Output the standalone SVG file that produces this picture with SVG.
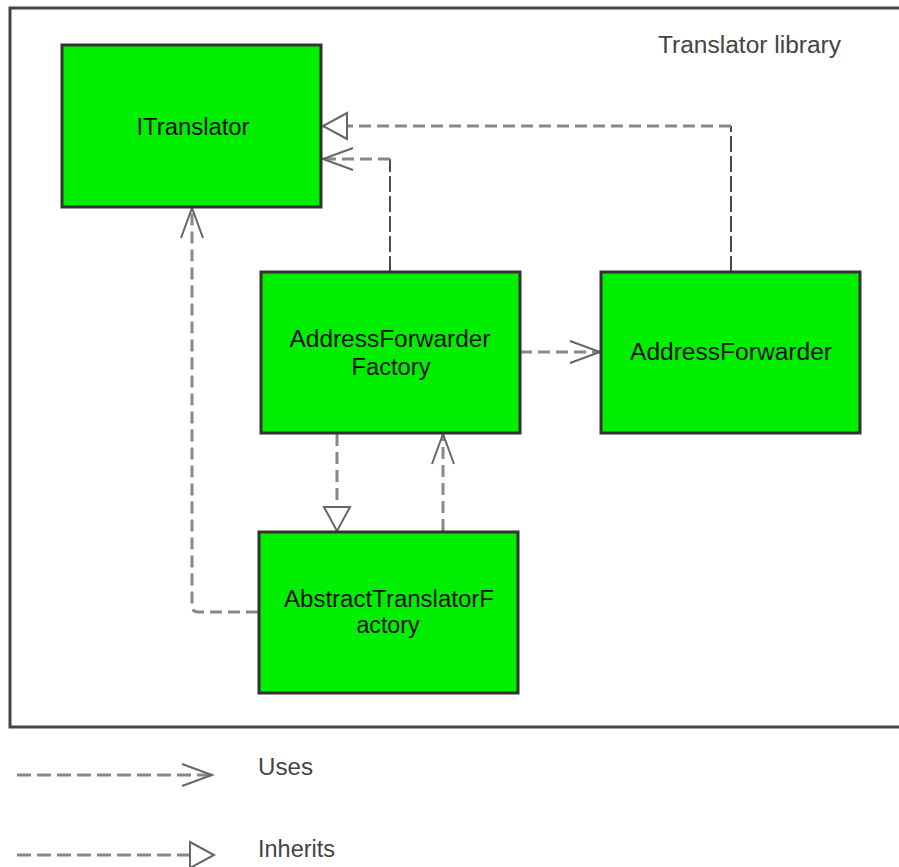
<svg xmlns="http://www.w3.org/2000/svg" width="899" height="867" viewBox="0 0 899 867">
  <style>
    .frame { fill: #ffffff; stroke: #444444; stroke-width: 3; }
    .node rect { fill: #00ee00; stroke: #333333; stroke-width: 3; }
    .node text { font-family: "Liberation Sans", Arial, sans-serif; font-size: 23px; fill: #111111; text-anchor: middle; }
    .label { font-family: "Liberation Sans", Arial, sans-serif; font-size: 23px; fill: #444444; }
    .dash { fill: none; stroke: #888888; stroke-width: 3; stroke-dasharray: 12 6; }
    .thin { fill: none; stroke: #111111; stroke-width: 1.5; stroke-dasharray: 16 4; }
    .legend { fill: none; stroke: #888888; stroke-width: 3; stroke-dasharray: 14 6; }
  </style>
  <defs>
    <!-- open arrowhead for "uses" dependencies -->
    <marker id="uses" markerUnits="userSpaceOnUse" markerWidth="40" markerHeight="30" refX="0" refY="0" orient="auto" overflow="visible">
      <path d="M -30 -11 L 0 0 L -30 11" fill="none" stroke="#666666" stroke-width="2"/>
    </marker>
    <!-- hollow triangle for inheritance -->
    <marker id="inherits" markerUnits="userSpaceOnUse" markerWidth="40" markerHeight="30" refX="0" refY="0" orient="auto" overflow="visible">
      <path d="M -24 -13 L 0 0 L -24 13 Z" fill="#ffffff" stroke="#666666" stroke-width="2"/>
    </marker>
  </defs>

  <rect width="899" height="867" fill="#ffffff"/>

  <!-- package frame -->
  <rect class="frame" x="10" y="8" width="900" height="719"/>
  <text class="label" x="658" y="53" textLength="183" lengthAdjust="spacingAndGlyphs">Translator library</text>

  <!-- connectors -->
  <g id="connectors">
    <g id="af-inherits-itranslator">
      <path class="thin" d="M 731 272 V 126"/>
      <path class="dash" d="M 731 126 H 323" marker-end="url(#inherits)"/>
    </g>
    <g id="aff-uses-itranslator">
      <path class="thin" d="M 390 272 V 159"/>
      <path class="dash" d="M 390 159 H 323" marker-end="url(#uses)"/>
    </g>
    <g id="aff-uses-af">
      <path class="dash" d="M 520 352 H 600" marker-end="url(#uses)"/>
    </g>
    <g id="aff-inherits-atf">
      <path class="dash" d="M 337 434 V 531" marker-end="url(#inherits)"/>
    </g>
    <g id="atf-uses-aff">
      <path class="dash" d="M 443 531 V 434" marker-end="url(#uses)"/>
    </g>
    <g id="atf-uses-itranslator">
      <path class="dash" d="M 258 612 H 198 Q 192 612 192 606 V 208" marker-end="url(#uses)"/>
    </g>
  </g>

  <!-- nodes -->
  <g id="ITranslator" class="node">
    <rect x="62" y="45" width="259" height="162"/>
    <text x="193" y="135" textLength="113" lengthAdjust="spacingAndGlyphs">ITranslator</text>
  </g>
  <g id="AddressForwarderFactory" class="node">
    <rect x="261" y="272" width="259" height="161"/>
    <text x="390" y="347" textLength="201" lengthAdjust="spacingAndGlyphs">AddressForwarder</text>
    <text x="391" y="375" textLength="79" lengthAdjust="spacingAndGlyphs">Factory</text>
  </g>
  <g id="AddressForwarder" class="node">
    <rect x="601" y="272" width="259" height="161"/>
    <text x="731" y="360" textLength="202" lengthAdjust="spacingAndGlyphs">AddressForwarder</text>
  </g>
  <g id="AbstractTranslatorFactory" class="node">
    <rect x="259" y="532" width="259" height="161"/>
    <text x="389" y="607" textLength="210" lengthAdjust="spacingAndGlyphs">AbstractTranslatorF</text>
    <text x="388" y="633" textLength="63" lengthAdjust="spacingAndGlyphs">actory</text>
  </g>

  <!-- legend -->
  <g id="legend">
    <path class="legend" d="M 17 775 H 212" marker-end="url(#uses)"/>
    <text class="label" x="258" y="775" textLength="55" lengthAdjust="spacingAndGlyphs">Uses</text>
    <path class="legend" d="M 17 855 H 214" marker-end="url(#inherits)"/>
    <text class="label" x="258" y="857" textLength="77" lengthAdjust="spacingAndGlyphs">Inherits</text>
  </g>
</svg>
